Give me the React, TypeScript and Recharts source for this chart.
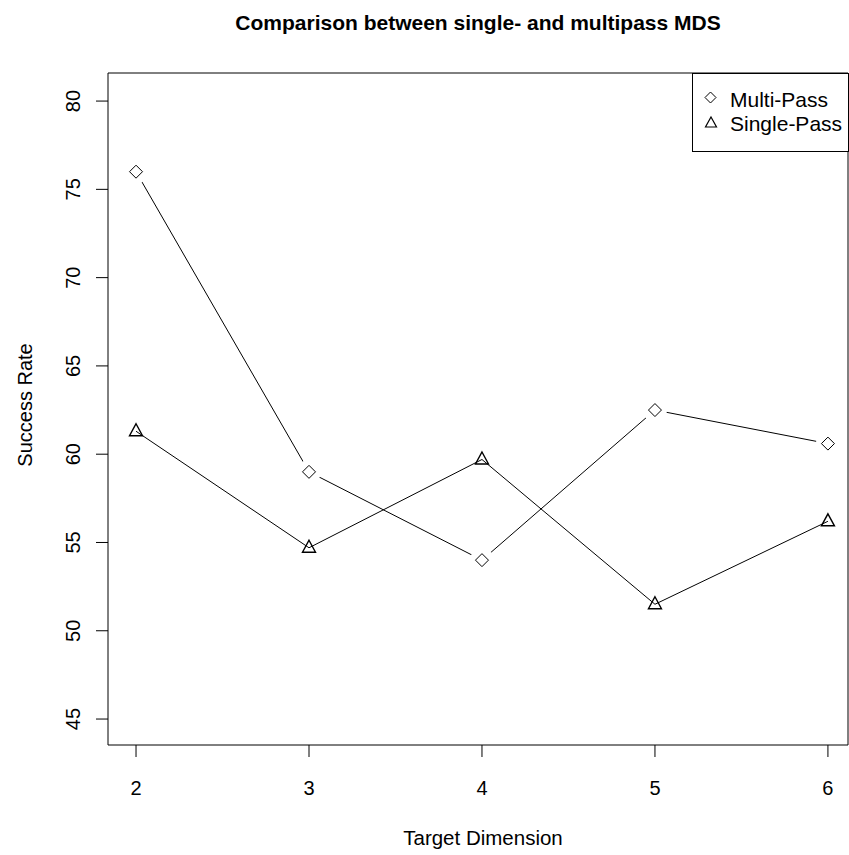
import React from "react";
import { LineChart, Line, XAxis, YAxis, ReferenceArea } from "recharts";

const dims = [2, 3, 4, 5, 6];
const multiPass = [76, 59, 54, 62.5, 60.6];
const singlePass = [61.3, 54.7, 59.7, 51.5, 56.2];
const xTicks = [2, 3, 4, 5, 6];
const yTicks = [45, 50, 55, 60, 65, 70, 75, 80];
const legendLabels = ["Multi-Pass", "Single-Pass"];

const X_DOMAIN: [number, number] = [1.838, 6.116];
const Y_DOMAIN: [number, number] = [43.53, 81.59];

const FONT = "'Liberation Sans', Arial, sans-serif";

const data = dims.map((d, i) => ({
  dim: d,
  multi: multiPass[i],
  single: singlePass[i],
}));

function diamondPts(cx: number, cy: number, s: number) {
  return `${cx},${cy - s} ${cx + s},${cy} ${cx},${cy + s} ${cx - s},${cy}`;
}
function trianglePts(cx: number, cy: number) {
  return `${cx},${cy - 7.5} ${cx + 6.5},${cy + 4.5} ${cx - 6.5},${cy + 4.5}`;
}

function Diamond(props: any) {
  const { cx, cy } = props;
  if (cx == null || cy == null) return null;
  return (
    <g>
      {/* white gap round the point, like R's type="b" */}
      <circle cx={cx} cy={cy} r={12} fill="#fff" stroke="none" />
      <polygon points={diamondPts(cx, cy, 6.5)} fill="#fff" stroke="#000" strokeWidth={1} />
    </g>
  );
}

function Triangle(props: any) {
  const { cx, cy } = props;
  if (cx == null || cy == null) return null;
  return <polygon points={trianglePts(cx, cy)} fill="none" stroke="#000" strokeWidth={1.4} />;
}

function XTick(props: any) {
  const { x, payload } = props;
  return (
    <text x={x} y={795} textAnchor="middle" fontFamily={FONT} fontSize={20} fill="#000">
      {payload.value}
    </text>
  );
}

function YTick(props: any) {
  const { y, payload } = props;
  return (
    <text
      x={80}
      y={y}
      transform={`rotate(-90, 80, ${y})`}
      textAnchor="middle"
      fontFamily={FONT}
      fontSize={20}
      fill="#000"
    >
      {payload.value}
    </text>
  );
}

export default function App() {
  return (
    <div
      style={{
        position: "absolute",
        left: 0,
        top: 0,
        width: 849,
        height: 855,
        background: "#fff",
      }}
    >
      <LineChart
        width={849}
        height={855}
        data={data}
        margin={{ top: 73, right: 1, left: 0, bottom: 0 }}
      >
        <XAxis
          dataKey="dim"
          type="number"
          domain={X_DOMAIN}
          ticks={xTicks}
          allowDataOverflow
          height={110}
          axisLine={false}
          tickSize={12}
          tickLine={{ stroke: "#000" }}
          tick={<XTick />}
        />
        <YAxis
          type="number"
          domain={Y_DOMAIN}
          ticks={yTicks}
          allowDataOverflow
          width={108}
          axisLine={false}
          tickSize={12}
          tickLine={{ stroke: "#000" }}
          tick={<YTick />}
        />
        <ReferenceArea
          x1={X_DOMAIN[0]}
          x2={X_DOMAIN[1]}
          y1={Y_DOMAIN[0]}
          y2={Y_DOMAIN[1]}
          fill="none"
          stroke="#000"
          strokeWidth={1}
          ifOverflow="visible"
        />
        <Line
          dataKey="single"
          stroke="#000"
          strokeWidth={1}
          dot={<Triangle />}
          activeDot={false}
          isAnimationActive={false}
        />
        <Line
          dataKey="multi"
          stroke="#000"
          strokeWidth={1}
          dot={<Diamond />}
          activeDot={false}
          isAnimationActive={false}
        />
      </LineChart>
      {/* titles and legend */}
      <svg
        width={849}
        height={855}
        style={{ position: "absolute", left: 0, top: 0, pointerEvents: "none" }}
      >
        <text
          x={478}
          y={30}
          textAnchor="middle"
          fontFamily={FONT}
          fontWeight="bold"
          fontSize={21}
          fill="#000"
        >
          Comparison between single- and multipass MDS
        </text>
        <text x={483} y={845} textAnchor="middle" fontFamily={FONT} fontSize={20.5} fill="#000">
          Target Dimension
        </text>
        <text
          x={32}
          y={405}
          transform="rotate(-90, 32, 405)"
          textAnchor="middle"
          fontFamily={FONT}
          fontSize={20}
          fill="#000"
        >
          Success Rate
        </text>
        <rect x={692.5} y={73.5} width={156} height={78} fill="#fff" stroke="#000" strokeWidth={1} />
        <polygon points={diamondPts(710.5, 97.5, 5.5)} fill="none" stroke="#000" strokeWidth={1} />
        <polygon
          points={`711,117 716.5,127 705.5,127`}
          fill="none"
          stroke="#000"
          strokeWidth={1.2}
        />
        <text x={730} y={107} fontFamily={FONT} fontSize={21} fill="#000">
          {legendLabels[0]}
        </text>
        <text x={730} y={131} fontFamily={FONT} fontSize={21} fill="#000">
          {legendLabels[1]}
        </text>
      </svg>
    </div>
  );
}
